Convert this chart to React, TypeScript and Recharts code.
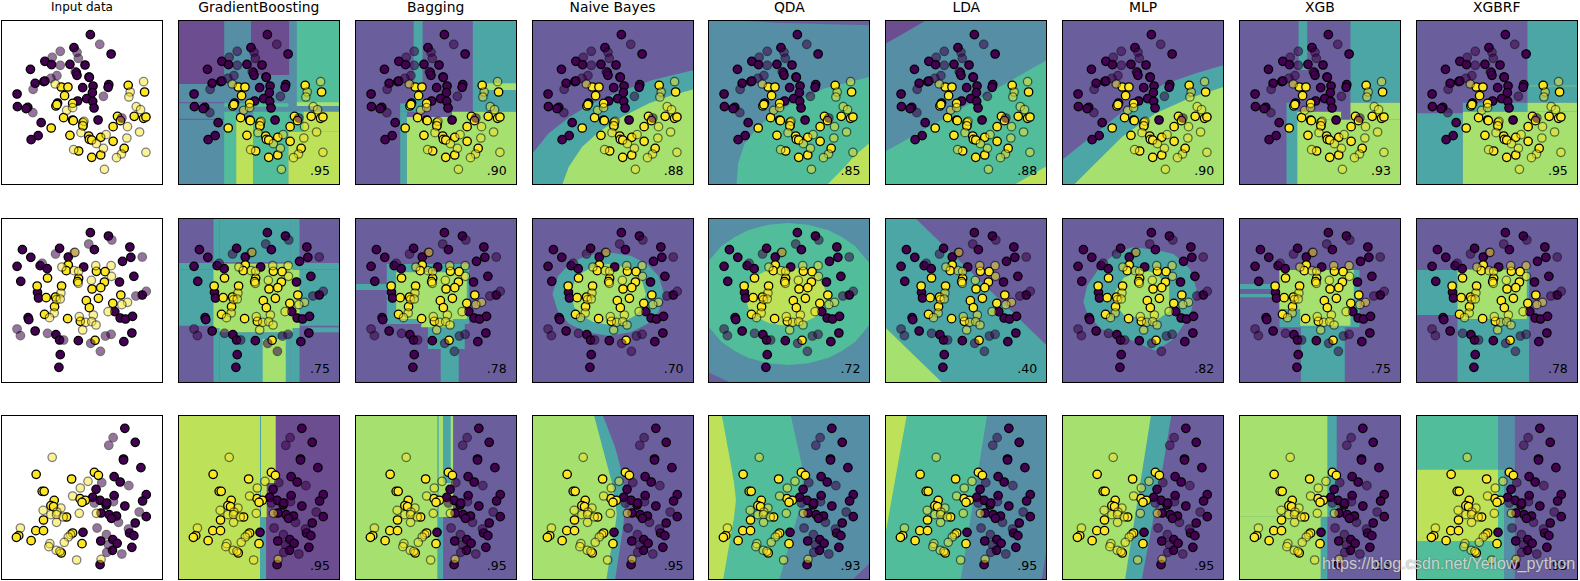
import { Area, ComposedChart, Scatter, XAxis, YAxis } from "recharts";

type Pair = [number, number];
type BandPt = [number, number, number];
type Region = { level: number; pts: BandPt[] };

const MODELS = ["GradientBoosting", "Bagging", "Naive Bayes", "QDA", "LDA", "MLP", "XGB", "XGBRF"];

const SCORES = [
  [".95", ".90", ".88", ".85", ".88", ".90", ".93", ".95"],
  [".75", ".78", ".70", ".72", ".40", ".82", ".75", ".78"],
  [".95", ".95", ".95", ".93", ".95", ".95", ".95", ".95"],
];

// fill of the decision regions, darkest to lightest
const LEVELS = ["#6c4d90", "#6a5f9c", "#568ea6", "#4ca6a6", "#52bd9a", "#a6e06e", "#bde25a"];

// points, top-left of each row's panel at ROW_ORIGIN
const ROW_ORIGIN: Pair[] = [[4, 60], [4, 37], [4, 46]];

const trainPurple1: Pair[] = [[271,104],[222,143],[333,162],[135,184],[155,194],[210,193],[255,195],[92,208],[229,218],[231,226],[267,231],[268,232],[106,250],[132,245],[135,243],[248,263],[279,258],[326,254],[324,262],[277,278],[52,282],[233,303],[260,296],[278,304],[173,309],[282,324],[53,320],[84,322],[79,326],[124,368],[294,360],[115,407],[94,419]];
const trainYellow1: Pair[] = [[184,261],[204,261],[384,256],[433,276],[194,287],[218,310],[168,318],[171,314],[191,353],[218,360],[220,362],[352,349],[402,349],[430,355],[437,351],[361,362],[339,380],[154,384],[249,368],[249,378],[210,406],[266,408],[268,418],[275,420],[302,412],[339,424],[372,445],[236,453],[302,465],[275,472]];
const testPurple1: Pair[] = [[299,133],[181,154],[157,172],[231,157],[235,175],[181,196],[226,215],[171,227],[153,235],[100,268],[310,289],[99,338],[365,354]];
const testYellow1: Pair[] = [[430,245],[166,252],[390,276],[386,291],[200,331],[218,323],[408,320],[421,329],[252,364],[248,377],[382,380],[243,398],[318,404],[418,396],[380,414],[289,431],[310,445],[221,449],[437,457],[364,462],[349,473],[313,508]];

const trainPurple2: Pair[] = [[271,81],[325,91],[68,132],[179,128],[283,132],[389,124],[93,155],[205,154],[392,155],[367,167],[52,182],[121,180],[142,189],[251,184],[401,212],[63,227],[358,229],[113,260],[116,277],[426,268],[344,318],[360,337],[376,340],[397,332],[85,336],[87,342],[106,376],[168,387],[179,403],[235,405],[395,382],[371,408],[181,447],[177,485]];
const trainYellow2: Pair[] = [[205,178],[199,195],[289,197],[315,198],[143,217],[236,218],[233,228],[313,229],[112,241],[185,241],[276,250],[302,246],[139,276],[167,274],[295,278],[362,268],[259,285],[338,293],[164,303],[268,306],[134,326],[203,339],[241,347],[285,404]];
const testPurple2: Pair[] = [[266,115],[335,103],[167,145],[223,141],[426,154],[127,173],[407,271],[438,257],[52,370],[62,390],[143,383],[191,403],[272,413],[316,391],[333,386],[301,437]];
const testYellow2: Pair[] = [[225,140],[186,184],[287,180],[333,180],[222,195],[236,197],[334,212],[274,224],[235,233],[183,262],[170,282],[181,280],[382,290],[365,297],[324,318],[163,322],[149,336],[238,333],[280,328],[257,350],[275,348],[288,358],[248,373]];

const trainPurple3: Pair[] = [[374,86],[405,128],[370,178],[370,181],[422,204],[342,231],[360,247],[288,269],[438,285],[342,288],[278,293],[300,302],[427,304],[318,316],[320,310],[374,319],[327,345],[349,349],[334,356],[303,340],[438,351],[405,370],[249,398],[388,400],[401,408],[302,424],[338,420],[351,431],[337,452],[395,443],[300,495]];
const trainYellow3: Pair[] = [[283,218],[295,227],[109,224],[215,238],[127,275],[133,275],[240,297],[256,302],[246,308],[163,302],[153,318],[161,321],[200,352],[131,361],[108,393],[131,393],[57,408],[50,413],[94,423],[218,400],[246,432],[184,460]];
const testPurple3: Pair[] = [[339,114],[326,137],[305,249],[386,258],[283,310],[340,306],[417,337],[355,368],[291,385],[385,388],[319,405],[325,435],[320,458],[365,463]];
const testYellow3: Pair[] = [[157,173],[264,245],[241,265],[218,289],[130,332],[183,325],[153,345],[171,337],[170,345],[190,352],[170,368],[238,341],[289,341],[62,385],[212,405],[205,412],[193,428],[150,432],[147,441],[169,452],[180,455],[230,481],[303,479]];

const TRAIN_PURPLE = [trainPurple1, trainPurple2, trainPurple3];
const TRAIN_YELLOW = [trainYellow1, trainYellow2, trainYellow3];
const TEST_PURPLE = [testPurple1, testPurple2, testPurple3];
const TEST_YELLOW = [testYellow1, testYellow2, testYellow3];

const box = (level: number, x1: number, x2: number, y1: number, y2: number): Region => ({
  level,
  pts: [[x1, y1, y2], [x2, y1, y2]],
});
const band = (level: number, pts: BandPt[]): Region => ({ level, pts });

// each panel: first entry is the background level, later ones paint on top
const regionsRow1: (Region | number)[][] = [
  [2, box(0,0,138,0,192), box(0,218,332,0,165), box(4,355,484,0,250), box(5,355,484,247,258), box(4,138,330,250,260),
    box(4,138,174,275,495), box(6,174,225,300,495), box(4,225,330,275,495), box(4,330,375,275,335), box(6,330,484,335,495), box(6,375,484,275,335), box(1,0,138,246,250), box(1,0,138,296,300)],
  [1, box(3,175,202,0,275), box(3,352,484,0,275), box(5,390,484,190,210), box(3,135,205,250,275), box(3,135,155,275,495), box(5,155,484,291,495), box(5,290,484,275,291)],
  [1, band(3, [[0,402,495],[50,340,495],[113,290,495],[180,250,495],[260,215,495],[360,180,495],[484,150,495]]),
    band(5, [[90,495,495],[110,440,495],[150,380,495],[200,335,495],[270,290,495],[350,250,495],[420,225,495],[484,208,495]])],
  [2, band(1, [[45,0,0],[200,0,8],[484,0,16]]),
    band(4, [[85,495,495],[90,430,495],[110,370,495],[150,320,495],[200,280,495],[270,240,495],[350,205,495],[484,170,495]]),
    band(6, [[355,495,495],[400,450,495],[440,405,495],[484,368,495]])],
  [2, band(0, [[0,0,72],[125,0,0]]), band(4, [[0,395,495],[484,120,495]]), band(6, [[385,495,495],[484,438,495]])],
  [1, band(3, [[0,420,495],[100,340,495],[200,260,495],[300,195,495],[400,160,495],[484,135,495]]),
    band(5, [[35,495,495],[100,430,495],[180,350,495],[280,280,495],[380,235,495],[484,200,495]])],
  [1, box(3,178,204,0,150), box(3,333,484,0,248), box(3,142,174,248,495), box(5,174,484,299,495), box(5,174,305,275,299), box(5,333,484,248,299)],
  [1, box(3,333,484,0,248), box(5,340,484,197,199), box(3,0,140,280,495), box(3,140,333,248,275), box(5,140,484,275,495), box(5,333,484,248,275)],
];

const regionsRow2: (Region | number)[][] = [
  [1, box(3,124,335,0,133), box(3,106,124,0,495), box(3,335,363,0,495), box(3,0,484,135,155), box(3,0,124,156,323), box(3,363,484,156,323),
    box(3,124,335,343,495), box(3,390,484,328,343), box(5,106,363,156,330), box(5,124,342,138,343), box(5,253,322,363,495)],
  [1, box(3,95,341,138,318), box(3,0,109,198,216), box(3,218,328,318,393), box(3,256,310,333,495), box(5,123,334,163,303), box(5,198,293,263,328)],
  [1, band(3, [[61,228,228],[78,174,282],[111,139,317],[161,113,343],[228,103,353],[295,113,343],[345,139,317],[378,174,282],[395,228,228]]),
    band(5, [[116,229,229],[127,189,269],[150,164,294],[183,146,312],[228,138,320],[273,146,312],[306,164,294],[329,189,269],[340,229,229]])],
  [2, band(1, [[0,463,495],[70,495,495]]),
    band(4, [[0,131,325],[40,85,371],[80,57,399],[120,37,419],[180,20,436],[240,15,441],[300,20,436],[360,37,419],[400,57,399],[440,85,371],[484,137,319]]),
    band(6, [[110,235,235],[122,197,273],[147,172,298],[184,154,316],[233,147,323],[282,154,316],[319,172,298],[344,197,273],[356,235,235]])],
  [1, band(3, [[0,0,495],[90,0,495],[484,383,495]]), band(5, [[0,328,495],[172,495,495]])],
  [1, band(3, [[64,253,253],[75,203,285],[116,143,333],[164,103,347],[211,88,368],[279,95,398],[334,108,363],[382,153,293],[402,213,213]]),
    band(5, [[150,235,245],[184,180,290],[239,155,300],[279,165,310],[320,205,280]])],
  [1, box(3,0,121,198,213), box(3,0,121,228,238), box(3,121,360,156,328), box(3,185,316,328,495), box(5,121,343,156,273), box(5,183,333,273,323)],
  [1, box(3,0,127,156,291), box(3,124,338,153,495), box(5,124,331,156,303)],
];

const regionsRow3: (Region | number)[][] = [
  [6, box(0,265,484,204,306), box(0,292,484,0,495), box(0,263,484,306,495), box(3,245,263,306,495), box(3,245,248,0,306)],
  [5, box(1,293,484,0,495), box(3,263,286,0,204), box(3,246,263,306,495), box(1,263,293,306,495), box(3,246,250,0,306)],
  [1, band(3, [[0,0,495],[211,0,495],[248,95,495],[265,160,383],[273,204,330],[278,250,262]]),
    band(5, [[0,0,495],[185,0,495],[222,140,494],[239,204,386],[250,270,325],[253,295,298]])],
  [2, band(1, [[431,494,495],[484,444,495]]),
    band(4, [[0,0,495],[213,0,495],[247,0,374],[267,90,304],[281,154,245],[284,225,232]]),
    band(6, [[0,0,495],[40,0,495],[45,20,494],[65,130,380],[78,205,305],[83,250,260]])],
  [2, band(1, [[468,494,495],[484,394,495]]), band(4, [[0,0,495],[226,0,495],[305,0,0]]), band(6, [[0,0,364],[65,0,0]])],
  [1, band(3, [[0,0,495],[238,0,495],[293,0,204],[327,0,0]]), band(5, [[0,0,495],[188,0,495],[266,0,0]])],
  [1, box(3,0,292,0,305), box(3,0,264,305,495), box(5,0,264,0,305), box(5,0,244,305,495)],
  [4, box(1,294,484,0,495), box(2,245,294,0,164), box(2,263,294,164,495), box(6,0,245,164,378)],
];

const REGIONS = [regionsRow1, regionsRow2, regionsRow3];

const PANEL_W = 162;
const PANEL_H = 165;

const dot = (fill: string, opacity: number) => (p: any) => (
  <circle cx={p.cx} cy={p.cy} r={4.2} fill={fill} stroke="#000" strokeWidth={1.3} opacity={opacity} />
);

function Panel({ row, col }: { row: number; col: number }) {
  const [ox, oy] = ROW_ORIGIN[row];
  const toXY = (list: Pair[]) => list.map(([x, y]) => ({ x: x - ox, y: y - oy }));
  const spec = col > 0 ? REGIONS[row][col - 1] : [];
  const base = spec[0] as number | undefined;
  const left = 1 + 176.85 * col;
  const top = 20 + 197.6 * row;
  return (
    <div style={{ position: "absolute", left, top, width: PANEL_W, height: PANEL_H, background: base === undefined ? "#fff" : LEVELS[base] }}>
      <ComposedChart width={PANEL_W} height={PANEL_H} margin={{ top: 0, right: 0, bottom: 0, left: 0 }}>
        <XAxis type="number" dataKey="x" domain={[0, 484]} hide allowDataOverflow />
        <YAxis type="number" dataKey="y" domain={[0, 495]} reversed hide allowDataOverflow />
        {(spec.slice(1) as Region[]).map((r, i) => (
          <Area
            key={i}
            data={r.pts.map(([x, lo, hi]) => ({ x, band: [lo, hi] }))}
            dataKey="band"
            type="linear"
            stroke="none"
            fill={LEVELS[r.level]}
            fillOpacity={1}
            dot={false}
            activeDot={false}
            isAnimationActive={false}
          />
        ))}
        <Scatter data={toXY(TRAIN_PURPLE[row])} shape={dot("#440154", 1)} isAnimationActive={false} />
        <Scatter data={toXY(TRAIN_YELLOW[row])} shape={dot("#fde725", 1)} isAnimationActive={false} />
        <Scatter data={toXY(TEST_PURPLE[row])} shape={dot("#440154", 0.55)} isAnimationActive={false} />
        <Scatter data={toXY(TEST_YELLOW[row])} shape={dot("#fde725", 0.5)} isAnimationActive={false} />
      </ComposedChart>
      <div style={{ position: "absolute", inset: 0, border: "1px solid #000", boxSizing: "border-box", pointerEvents: "none" }} />
      {col > 0 && (
        <div style={{ position: "absolute", right: 10, bottom: 7, fontSize: 12.5, lineHeight: "14px", color: "#000" }}>
          {SCORES[row][col - 1]}
        </div>
      )}
    </div>
  );
}

export default function App() {
  return (
    <div style={{ position: "absolute", left: 0, top: 0, width: 1580, height: 581, overflow: "hidden", background: "#fff", fontFamily: "'DejaVu Sans', sans-serif" }}>
      {[0, 1, 2].map((row) =>
        [0, 1, 2, 3, 4, 5, 6, 7, 8].map((col) => <Panel key={`${row}-${col}`} row={row} col={col} />)
      )}
      <div style={{ position: "absolute", left: 1, top: 0, width: PANEL_W, textAlign: "center", fontSize: 12, lineHeight: "14px", color: "#000" }}>
        Input data
      </div>
      {MODELS.map((m, i) => (
        <div key={m} style={{ position: "absolute", left: 1 + 176.85 * (i + 1), top: 0, width: PANEL_W, textAlign: "center", fontSize: 13.9, lineHeight: "14px", color: "#000" }}>
          {m}
        </div>
      ))}
      <div style={{ position: "absolute", left: 1322, top: 553, fontFamily: "'Liberation Sans', sans-serif", fontSize: 16.2, lineHeight: "20px", color: "rgba(255,255,255,0.7)", textShadow: "0 0 1.5px rgba(70,70,70,0.8)", whiteSpace: "nowrap" }}>
        https://blog.csdn.net/Yellow_python
      </div>
    </div>
  );
}
